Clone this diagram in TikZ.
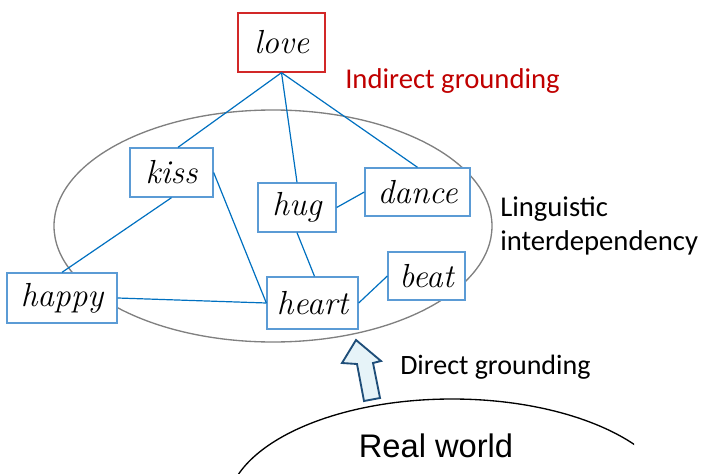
\documentclass[tikz,border=0pt]{standalone}
\usepackage{fontspec}
\setmainfont{Latin Modern Roman}
\newfontfamily\labelfont{Carlito}
\newfontfamily\bigfont{Liberation Sans}
\usetikzlibrary{calc}

\definecolor{boxblue}{RGB}{91,155,213}
\definecolor{linkblue}{RGB}{0,112,192}
\definecolor{boxred}{RGB}{210,40,40}
\definecolor{textred}{RGB}{192,0,0}
\definecolor{arrowedge}{RGB}{31,78,121}
\definecolor{arrowfill}{RGB}{230,243,248}
\definecolor{rimgray}{RGB}{128,128,128}

\tikzset{
  word/.style={draw=boxblue, line width=1pt, fill=white, inner sep=0pt,
    font=\fontsize{25}{28}\selectfont\itshape},
  wordred/.style={word, draw=boxred},
  link/.style={draw=linkblue, line width=0.9pt},
  rim/.style={draw=rimgray, line width=1pt},
  caption/.style={font=\labelfont\fontsize{21.5}{25}\selectfont, anchor=west, inner sep=0pt},
}

\begin{document}
\begin{tikzpicture}[x=0.75pt, y=-0.75pt]
  \useasboundingbox (0,0) rectangle (706,474);

  % real world
  \begin{scope}
    \clip (0,0) rectangle (634,474);
    \draw[line width=1pt] (452,509) ellipse [x radius=225, y radius=110];
  \end{scope}
  \node[font=\bigfont\fontsize{24.5}{28}\selectfont] (real) at (436,446) {Real world};

  % linguistic space
  \draw[rim] (273,226) ellipse [x radius=219, y radius=116];

  % word nodes
  \node[wordred, minimum width={87*0.75pt}, minimum height={59*0.75pt}] (love) at (281.5,42.5) {love};
  \node[word, minimum width={83*0.75pt}, minimum height={49*0.75pt}] (kiss) at (171.5,172.5) {kiss};
  \node[word, minimum width={78*0.75pt}, minimum height={49*0.75pt}] (hug) at (297,207.5) {hug};
  \node[word, minimum width={105*0.75pt}, minimum height={48*0.75pt}] (dance) at (417.5,192) {dance};
  \node[word, minimum width={110*0.75pt}, minimum height={50*0.75pt}] (happy) at (62,298) {happy};
  \node[word, minimum width={91*0.75pt}, minimum height={52*0.75pt}] (heart) at (312.5,303) {heart};
  \node[word, minimum width={77*0.75pt}, minimum height={48*0.75pt}] (beat) at (426.5,276) {beat};

  % links
  \draw[link] (love.south) -- ($(kiss.north)+(6.5,0)$);
  \draw[link] (love.south) -- (hug.north);
  \draw[link] (love.south) -- (dance.north);
  \draw[link] (kiss.south) -- (happy.north);
  \draw[link] (kiss.east) -- (heart.west);
  \draw[link] (hug.south) -- ($(heart.north)+(2,0)$);
  \draw[link] (hug.east) -- (dance.west);
  \draw[link] (happy.east) -- (heart.west);
  \draw[link] (heart.east) -- (beat.west);

  % captions
  \node[caption, text=textred] (indirect) at (345,81) {Indirect grounding};
  \node[caption, align=left] (ling) at (500,226) {Linguistic\\interdependency};
  \node[caption, font=\labelfont\fontsize{21}{25}\selectfont] (direct) at (400,367) {Direct grounding};

  % grounding arrow
  \draw[draw=arrowedge, fill=arrowfill, line width=1.4pt, line join=miter]
    (356,340) -- (381,361) -- (373,363) -- (380,398) -- (364,401)
    -- (357,364) -- (342,363) -- cycle;
\end{tikzpicture}
\end{document}
